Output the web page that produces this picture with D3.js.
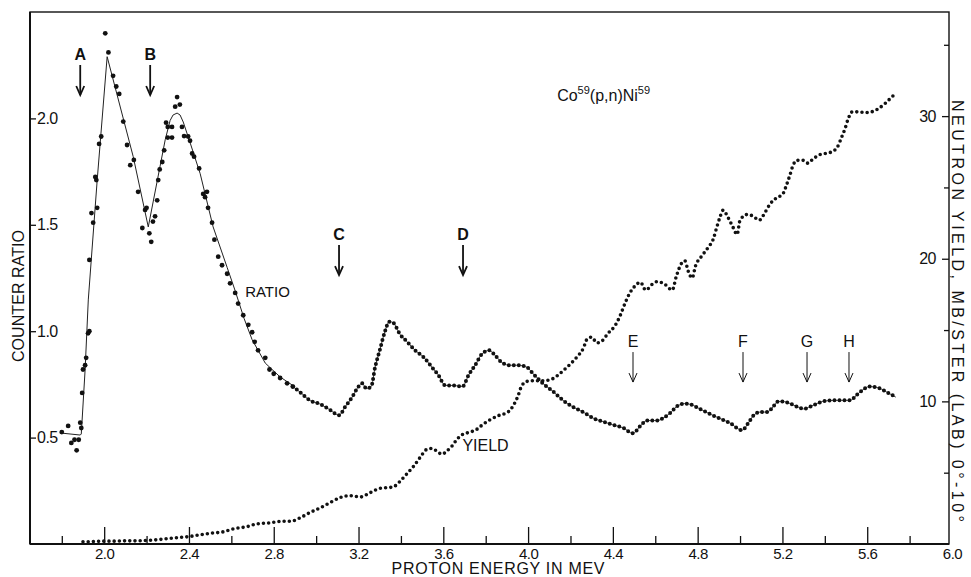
<!DOCTYPE html>
<html>
<head>
<meta charset="utf-8">
<script src="https://cdn.jsdelivr.net/npm/d3@7"></script>
<style>
  body { margin: 0; background: #fff; }
  svg { display: block; font-family: 'Liberation Sans', Arial, sans-serif; }
  .info { fill: #111; }
</style>
</head>
<body>
<div id="main"></div>
<script>
// counter ratio, scattered points of the low-energy part
const ratioScatterE = [1.80, 1.83, 1.845, 1.86, 1.87, 1.88, 1.887, 1.892, 1.896, 1.90, 1.91, 1.915, 1.924, 1.93, 1.93,
  1.94, 1.948, 1.958, 1.963, 1.967, 1.976, 1.986, 2.005, 2.02, 2.042, 2.057, 2.071, 2.09, 2.108, 2.123, 2.14, 2.16,
  2.18, 2.193, 2.20, 2.213, 2.222, 2.23, 2.24, 2.25, 2.255, 2.262, 2.274, 2.283, 2.292, 2.30, 2.30, 2.32, 2.32, 2.335,
  2.344, 2.357, 2.367, 2.377, 2.396, 2.405, 2.415, 2.424, 2.448, 2.467, 2.476, 2.485, 2.49, 2.509, 2.52, 2.538, 2.556,
  2.58, 2.594, 2.618, 2.632, 2.656, 2.68, 2.698, 2.71, 2.726, 2.76, 2.78, 2.80, 2.83, 2.863, 2.89];
const ratioScatterV = [0.526, 0.555, 0.475, 0.49, 0.44, 0.49, 0.57, 0.545, 0.71, 0.82, 0.84, 0.875, 0.99, 1.0, 1.335,
  1.555, 1.51, 1.725, 1.71, 1.58, 1.88, 1.915, 2.40, 2.31, 2.20, 2.15, 2.115, 1.985, 1.875, 1.78, 1.805, 1.655,
  1.485, 1.57, 1.58, 1.46, 1.42, 1.515, 1.54, 1.615, 1.71, 1.76, 1.795, 1.85, 1.98, 1.96, 1.91, 1.96, 1.91, 2.055,
  2.10, 2.065, 1.96, 1.917, 1.915, 1.895, 1.835, 1.82, 1.765, 1.645, 1.63, 1.655, 1.58, 1.51, 1.43, 1.35, 1.31,
  1.27, 1.225, 1.18, 1.13, 1.075, 1.03, 0.995, 0.95, 0.91, 0.875, 0.82, 0.80, 0.78, 0.755, 0.74];

// counter ratio, dense trace of the high-energy part
const ratioTraceE = [2.89, 2.925, 2.97, 3.02, 3.066, 3.108, 3.137, 3.17, 3.193, 3.217, 3.238, 3.26, 3.278, 3.30, 3.325,
  3.345, 3.363, 3.396, 3.43, 3.467, 3.505, 3.547, 3.576, 3.61, 3.65, 3.69, 3.72, 3.75, 3.78, 3.816, 3.85, 3.88,
  3.915, 3.953, 3.995, 4.024, 4.07, 4.12, 4.165, 4.21, 4.26, 4.31, 4.354, 4.40, 4.45, 4.495, 4.53, 4.56, 4.61,
  4.635, 4.67, 4.70, 4.74, 4.77, 4.81, 4.86, 4.905, 4.95, 5.01, 5.04, 5.06, 5.094, 5.13, 5.156, 5.18, 5.20, 5.236,
  5.27, 5.30, 5.33, 5.363, 5.39, 5.44, 5.48, 5.52, 5.55, 5.58, 5.61, 5.65, 5.69, 5.735];
const ratioTraceV = [0.74, 0.713, 0.675, 0.657, 0.63, 0.605, 0.645, 0.69, 0.73, 0.755, 0.73, 0.74, 0.83, 0.91, 1.0,
  1.045, 1.04, 0.985, 0.95, 0.91, 0.88, 0.83, 0.795, 0.745, 0.745, 0.74, 0.795, 0.84, 0.89, 0.91, 0.88, 0.85,
  0.84, 0.84, 0.83, 0.80, 0.755, 0.715, 0.675, 0.645, 0.62, 0.59, 0.575, 0.56, 0.545, 0.52, 0.555, 0.58, 0.58,
  0.59, 0.615, 0.645, 0.66, 0.655, 0.635, 0.61, 0.59, 0.57, 0.535, 0.57, 0.60, 0.62, 0.62, 0.645, 0.67, 0.67, 0.66,
  0.645, 0.635, 0.645, 0.66, 0.67, 0.675, 0.675, 0.675, 0.70, 0.725, 0.74, 0.735, 0.715, 0.69];

// hand-drawn curve through the ratio points
const ratioFitE = [1.79, 1.887, 1.892, 1.910, 1.925, 1.967, 2.014, 2.137, 2.208, 2.288, 2.311, 2.325, 2.344, 2.358,
  2.373, 2.406, 2.453, 2.514, 2.58, 2.618, 2.66, 2.698, 2.76, 2.83, 2.89];
const ratioFitV = [0.522, 0.512, 0.517, 0.818, 1.147, 1.71, 2.29, 1.82, 1.49, 1.90, 1.99, 2.016, 2.025, 2.016,
  1.983, 1.884, 1.74, 1.49, 1.30, 1.19, 1.06, 0.96, 0.85, 0.785, 0.745];

// neutron yield, mb/ster
const yieldE = [1.90, 1.95, 2.00, 2.05, 2.10, 2.15, 2.20, 2.25, 2.30, 2.35, 2.40, 2.45, 2.50, 2.56, 2.61, 2.675, 2.72,
  2.78, 2.845, 2.88, 2.93, 2.97, 3.02, 3.066, 3.113, 3.16, 3.21, 3.255, 3.30, 3.363, 3.396, 3.43, 3.46, 3.49, 3.523,
  3.547, 3.57, 3.594, 3.615, 3.64, 3.665, 3.693, 3.726, 3.76, 3.788, 3.82, 3.86, 3.906, 3.93, 3.953, 3.97, 3.995,
  4.024, 4.07, 4.118, 4.15, 4.184, 4.23, 4.26, 4.28, 4.30, 4.325, 4.35, 4.377, 4.41, 4.434, 4.458, 4.48, 4.505, 4.53,
  4.555, 4.585, 4.61, 4.646, 4.68, 4.70, 4.725, 4.74, 4.755, 4.774, 4.79, 4.82, 4.85, 4.873, 4.89, 4.905, 4.92,
  4.943, 4.967, 4.986, 5.0, 5.033, 5.06, 5.09, 5.118, 5.14, 5.175, 5.2, 5.22, 5.236, 5.25, 5.27, 5.30, 5.32, 5.345,
  5.377, 5.41, 5.44, 5.46, 5.48, 5.495, 5.51, 5.53, 5.56, 5.59, 5.62, 5.65, 5.685, 5.71, 5.735];
const yieldV = [0.15, 0.17, 0.2, 0.2, 0.22, 0.22, 0.25, 0.3, 0.38, 0.45, 0.52, 0.64, 0.75, 0.85, 1.06, 1.22, 1.41,
  1.48, 1.6, 1.6, 1.88, 2.2, 2.54, 2.9, 3.25, 3.39, 3.3, 3.6, 3.9, 4.0, 4.4, 4.95, 5.45, 6.06, 6.64,
  6.7, 6.5, 6.29, 6.5, 6.85, 7.35, 7.7, 7.84, 8.06, 8.4, 8.7, 9.0, 9.26, 9.7, 10.4, 11.1, 11.4,
  11.45, 11.45, 11.6, 11.95, 12.4, 13.1, 13.7, 14.4, 14.5, 14.1, 14.25, 14.77, 15.3, 16.0, 16.9, 17.6, 18.1, 18.35,
  17.8, 18.2, 18.4, 18.2, 17.8, 18.8, 19.7, 19.85, 19.15, 18.65, 19.5, 20.2, 20.8, 21.35, 22.2, 22.9, 23.4,
  22.9, 22.2, 21.7, 22.7, 23.1, 23.0, 22.7, 23.25, 23.8, 24.3, 24.5, 25.2, 25.9, 26.55, 26.9, 26.9, 26.7, 27.0,
  27.3, 27.4, 27.55, 27.85, 28.55, 29.1, 29.8, 30.3, 30.3, 30.25, 30.3, 30.5, 30.9, 31.25, 31.6];

// resonance markers: energy and the ratio level of the arrow tip
const arrowLabels = ['A', 'B', 'C', 'D', 'E', 'F', 'G', 'H'];
const arrowE = [1.887, 2.217, 3.108, 3.693, 4.495, 5.014, 5.316, 5.514];
const arrowTip = [2.11, 2.11, 1.264, 1.264, 0.761, 0.761, 0.761, 0.761];

const xLabelTicks = [2.0, 2.4, 2.8, 3.2, 3.6, 4.0, 4.4, 4.8, 5.2, 5.6, 6.0];
const xMajorTicks = [2.0, 2.4, 2.8, 3.2, 3.6, 4.0, 4.4, 4.8, 5.2, 5.6];
const xMinorTicks = [1.8, 2.2, 2.6, 3.0, 3.4, 3.8, 4.2, 4.6, 5.0, 5.4, 5.8];
const ratioTicks = [0.5, 1.0, 1.5, 2.0];
const yieldMajorTicks = [10, 20, 30];
const yieldMinorTicks = [5, 15, 25, 35];

function main() {
  const width = 971;
  const height = 577;
  const left = 30;
  const right = 949;
  const top = 12;
  const bottom = 544;
  const ink = '#111';

  const xScale = d3.scaleLinear().domain([1.65, 6.0]).range([left, 952]);
  const yRatio = d3.scaleLinear().domain([0, 2.5]).range([bottom, top]);
  const yYield = d3.scaleLinear().domain([0, 37.3]).range([bottom, top]);

  const svg = d3.select('#main')
    .append('svg')
    .attr('width', width)
    .attr('height', height);

  const styleAxis = (g, size) => {
    g.attr('font-family', null).attr('font-size', null);
    g.select('.domain').remove();
    g.selectAll('line').attr('stroke', ink).attr('stroke-width', 1.3);
    g.selectAll('text').attr('fill', ink).style('font-size', `${size}px`).style('letter-spacing', '-0.5px');
  };

  // frame
  svg.append('rect')
    .attr('x', left)
    .attr('y', top)
    .attr('width', right - left)
    .attr('height', bottom - top)
    .attr('fill', 'none')
    .attr('stroke', ink)
    .attr('stroke-width', 1.4);
  svg.append('line')
    .attr('x1', left).attr('x2', left)
    .attr('y1', top).attr('y2', bottom)
    .attr('stroke', ink)
    .attr('stroke-width', 2);
  svg.append('line')
    .attr('x1', left).attr('x2', right)
    .attr('y1', bottom).attr('y2', bottom)
    .attr('stroke', ink)
    .attr('stroke-width', 2);

  // bottom axis
  svg.append('g')
    .attr('transform', `translate(0, ${bottom})`)
    .call(d3.axisBottom(xScale).tickValues(xLabelTicks).tickSize(0).tickPadding(4).tickFormat(d3.format('.1f')))
    .call(g => styleAxis(g, 15));
  svg.append('g')
    .attr('transform', `translate(0, ${bottom})`)
    .call(d3.axisBottom(xScale).tickValues(xMajorTicks).tickSize(-17).tickFormat(''))
    .call(g => styleAxis(g, 15));
  svg.append('g')
    .attr('transform', `translate(0, ${bottom})`)
    .call(d3.axisBottom(xScale).tickValues(xMinorTicks).tickSize(-8).tickFormat(''))
    .call(g => styleAxis(g, 15));

  // left axis, labels inside the frame
  svg.append('g')
    .attr('transform', `translate(${left}, 0)`)
    .call(d3.axisRight(yRatio).tickValues(ratioTicks).tickSize(6).tickPadding(1).tickFormat(d3.format('.1f')))
    .call(g => styleAxis(g, 16));

  // right axis, labels inside the frame
  svg.append('g')
    .attr('transform', `translate(${right}, 0)`)
    .call(d3.axisLeft(yYield).tickValues(yieldMajorTicks).tickSize(7).tickPadding(6).tickFormat(d3.format('d')))
    .call(g => styleAxis(g, 16));
  svg.append('g')
    .attr('transform', `translate(${right}, 0)`)
    .call(d3.axisLeft(yYield).tickValues(yieldMinorTicks).tickSize(5).tickFormat(''))
    .call(g => styleAxis(g, 16));

  // yield: dotted trace
  const yieldLine = d3.line()
    .x(d => xScale(d[0]))
    .y(d => yYield(d[1]))
    .curve(d3.curveMonotoneX);
  svg.append('path')
    .datum(d3.zip(yieldE, yieldV))
    .attr('d', yieldLine)
    .attr('fill', 'none')
    .attr('stroke', ink)
    .attr('stroke-width', 3.6)
    .attr('stroke-linecap', 'round')
    .attr('stroke-dasharray', '0 5.2');

  // ratio: fitted curve, thin trace and dots
  const ratioLine = d3.line()
    .x(d => xScale(d[0]))
    .y(d => yRatio(d[1]));
  svg.append('path')
    .datum(d3.zip(ratioFitE, ratioFitV))
    .attr('d', ratioLine)
    .attr('fill', 'none')
    .attr('stroke', '#222')
    .attr('stroke-width', 1);

  const traceLine = d3.line()
    .x(d => xScale(d[0]))
    .y(d => yRatio(d[1]))
    .curve(d3.curveMonotoneX);
  const trace = d3.zip(ratioTraceE, ratioTraceV);
  svg.append('path')
    .datum(trace)
    .attr('d', traceLine)
    .attr('fill', 'none')
    .attr('stroke', '#333')
    .attr('stroke-width', 0.9);
  svg.append('path')
    .datum(trace)
    .attr('d', traceLine)
    .attr('fill', 'none')
    .attr('stroke', ink)
    .attr('stroke-width', 4)
    .attr('stroke-linecap', 'round')
    .attr('stroke-dasharray', '0 5');

  svg.selectAll('circle.ratio')
    .data(d3.zip(ratioScatterE, ratioScatterV))
    .enter()
    .append('circle')
    .classed('ratio', true)
    .attr('cx', d => xScale(d[0]))
    .attr('cy', d => yRatio(d[1]))
    .attr('r', 2.4)
    .attr('fill', ink);

  // resonance arrows
  const arrows = svg.selectAll('g.arrow')
    .data(arrowLabels.map((t, i) => ({ t, e: arrowE[i], tip: arrowTip[i], bold: i < 4 })))
    .enter()
    .append('g')
    .classed('arrow', true)
    .attr('transform', d => `translate(${xScale(d.e)}, ${yRatio(d.tip)})`);
  arrows.append('line')
    .attr('y1', -30)
    .attr('y2', 0)
    .attr('stroke', ink)
    .attr('stroke-width', d => (d.bold ? 1.8 : 1));
  arrows.append('path')
    .attr('d', 'M-4,-9L0,0L4,-9')
    .attr('fill', 'none')
    .attr('stroke', ink)
    .attr('stroke-width', d => (d.bold ? 1.8 : 1));
  arrows.append('text')
    .attr('y', -35)
    .classed('info', true)
    .style('text-anchor', 'middle')
    .style('font-size', d => (d.bold ? '16px' : '16px'))
    .style('font-weight', d => (d.bold ? 'bold' : 'normal'))
    .text(d => d.t);

  // curve labels
  svg.append('text')
    .attr('x', xScale(2.665))
    .attr('y', yRatio(1.16))
    .classed('info', true)
    .style('font-size', '15px')
    .text('RATIO');
  svg.append('text')
    .attr('x', xScale(3.69))
    .attr('y', yYield(6.5))
    .classed('info', true)
    .style('font-size', '16px')
    .text('YIELD');

  const title = svg.append('text')
    .attr('x', xScale(4.137))
    .attr('y', yRatio(2.082))
    .classed('info', true)
    .style('font-size', '16px');
  title.append('tspan').text('Co');
  title.append('tspan').attr('dy', -7).style('font-size', '11px').text('59');
  title.append('tspan').attr('dy', 7).text('(p,n)Ni');
  title.append('tspan').attr('dy', -7).style('font-size', '11px').text('59');

  // axis titles
  svg.append('text')
    .attr('x', 498)
    .attr('y', 574)
    .classed('info', true)
    .style('font-size', '16px')
    .style('text-anchor', 'middle')
    .attr('textLength', 213)
    .attr('lengthAdjust', 'spacing')
    .text('PROTON ENERGY IN MEV');

  svg.append('text')
    .attr('transform', 'translate(18, 296) rotate(-90)')
    .classed('info', true)
    .style('font-size', '16px')
    .style('text-anchor', 'middle')
    .style('dominant-baseline', 'central')
    .attr('textLength', 132)
    .attr('lengthAdjust', 'spacing')
    .text('COUNTER RATIO');

  svg.append('text')
    .attr('transform', 'translate(957, 311) rotate(90)')
    .classed('info', true)
    .style('font-size', '16px')
    .style('text-anchor', 'middle')
    .style('dominant-baseline', 'central')
    .attr('textLength', 422)
    .attr('lengthAdjust', 'spacing')
    .text('NEUTRON YIELD, MB/STER (LAB) 0°-10°');
}

document.addEventListener('DOMContentLoaded', main);
</script>
</body>
</html>
